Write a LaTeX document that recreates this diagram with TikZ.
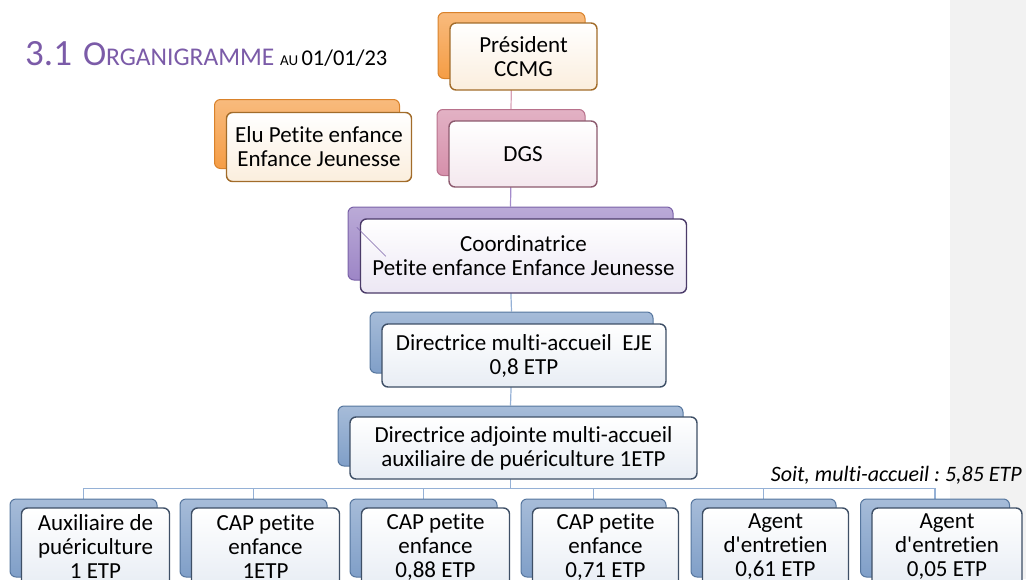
\documentclass[tikz,border=0pt]{standalone}
\usepackage{fontspec}
\setmainfont{Carlito}[Ligatures={TeXOff,CommonOff}]
\usetikzlibrary{backgrounds}
\definecolor{orangeback}{HTML}{F59D45}
\definecolor{orangeedge}{HTML}{D9822B}
\definecolor{orangeline}{HTML}{A26C2A}
\definecolor{orangefill}{HTML}{FBEEDD}
\definecolor{pinkback}{HTML}{D690AB}
\definecolor{pinkedge}{HTML}{B8728C}
\definecolor{pinkline}{HTML}{8C5A6E}
\definecolor{pinkfill}{HTML}{F4E8EE}
\definecolor{purpleback}{HTML}{9D86C6}
\definecolor{purpleedge}{HTML}{7A62A8}
\definecolor{purpleline}{HTML}{4B3B69}
\definecolor{purplefill}{HTML}{ECE7F4}
\definecolor{blueback}{HTML}{809FC8}
\definecolor{blueedge}{HTML}{56769E}
\definecolor{blueline}{HTML}{3E4F66}
\definecolor{bluefill}{HTML}{E8EDF4}
\definecolor{titlepurple}{HTML}{7B5BA8}
\definecolor{bandgray}{HTML}{F2F2F2}
\definecolor{pinkspine}{HTML}{D8A0B5}
\definecolor{purplespine}{HTML}{A48CCC}
\definecolor{bluespine}{HTML}{95B1D6}

\begin{document}
\frenchspacing
\begin{tikzpicture}[x=1pt,y=-1pt,
   back/.style={rounded corners=6pt, line width=1pt, draw=#1edge,
      top color=#1back!70!white, bottom color=#1back, inner sep=0pt},
   front/.style={rounded corners=6pt, line width=1.4pt, draw=#1line,
      top color=white, bottom color=#1fill, align=center, inner sep=0pt,
      font=\fontsize{23}{24}\selectfont},
   boxsize/.style 2 args={minimum width=#1pt, minimum height=#2pt},
   spine/.style={line width=1.2pt, draw=#1}]
   \useasboundingbox (0,0) rectangle (1026,579);
   \clip (0,0) rectangle (1026,579);
   % title
   \node (title)[anchor=base west, text=titlepurple, inner sep=0pt] at (25,65)
      {\fontsize{37}{37}\selectfont 3.1\hspace{11pt}\fontsize{35}{35}\selectfont O\fontsize{25.5}{25}\selectfont RGANIGRAMME\
       \textcolor{black}{\fontsize{15}{15}\selectfont AU\ \fontsize{22.5}{22}\selectfont 01/01/23}};
   % top of chart
   \node (pres)[back=orange, boxsize={147}{66}] at (511.5,45.5) {};
   \node (presf)[front=orange, boxsize={147}{67}] at ([shift={(12,11)}]pres.center) {Président\\CCMG};
   \node (elu)[back=orange, boxsize={185}{69}] at (307,134) {};
   \node (eluf)[front=orange, boxsize={185}{69}] at ([shift={(12,13)}]elu.center) {Elu Petite enfance\\Enfance Jeunesse};
   \node (dgs)[back=pink, boxsize={148}{66}] at (511,142.5) {};
   \node (dgsf)[front=pink, boxsize={148}{66}] at ([shift={(12,11.5)}]dgs.center) {DGS};
   \node (coord)[back=purple, boxsize={325}{73}] at (510.5,243.5) {};
   \node (coordf)[front=purple, boxsize={326}{74}] at ([shift={(13,12.5)}]coord.center) {Coordinatrice\\ Petite enfance Enfance Jeunesse};
   \coordinate (c1) at ([shift={(-3,9)}]coordf.north west);
   \coordinate (c2) at ([shift={(26,38)}]coordf.north west);
   \draw[purpleedge, line width=0.6pt] (c1) -- (c2);
   \node (eje)[back=blue, boxsize={283}{61}] at (511.5,342.5) {};
   \node (ejef)[front=blue, boxsize={284}{63}] at ([shift={(12.5,13)}]eje.center) {Directrice multi-accueil\ \ EJE\\0,8 ETP};
   \node (adj)[back=blue, boxsize={345}{60}] at (510.5,436) {};
   \node (adjf)[front=blue, boxsize={347}{62}] at ([shift={(13,12)}]adj.center) {Directrice adjointe multi-accueil\\auxiliaire de puériculture 1ETP};
   % bottom row
   \node (aux)[back=blue, boxsize={147}{78}] at (83.5,538) {};
   \node (auxf)[front=blue, boxsize={148}{78}] at ([shift={(12,9)}]aux.center) {Auxiliaire de\\puériculture\\1 ETP};
   \node (capa)[back=blue, boxsize={147}{78}] at (253.5,538) {};
   \node (capaf)[front=blue, boxsize={148}{78}] at ([shift={(12,9)}]capa.center) {CAP petite\\enfance\\1ETP};
   \node (capb)[back=blue, boxsize={147}{78}] at (423.5,538) {};
   \node (capbf)[front=blue, boxsize={148}{78}] at ([shift={(12,9)}]capb.center) {CAP petite\\enfance\\0,88 ETP};
   \node (capc)[back=blue, boxsize={145}{78}] at (593.5,538) {};
   \node (capcf)[front=blue, boxsize={146}{78}] at ([shift={(12,9)}]capc.center) {CAP petite\\enfance\\0,71 ETP};
   \node (agenta)[back=blue, boxsize={145}{78}] at (763.5,538) {};
   \node (agentaf)[front=blue, boxsize={146}{78}] at ([shift={(12,9)}]agenta.center) {Agent\\d'entretien\\0,61 ETP};
   \node (agentb)[back=blue, boxsize={149}{78}] at (935,538) {};
   \node (agentbf)[front=blue, boxsize={150}{78}] at ([shift={(12,9)}]agentb.center) {Agent\\d'entretien\\0,05 ETP};
   \node (total)[anchor=base east, inner sep=0pt, font=\fontsize{22}{22}\selectfont\itshape] at (1022,481) {Soit, multi-accueil : 5,85 ETP};
   % connectors and band behind
   \begin{scope}[on background layer]
      \fill[bandgray] (950,0) rectangle (1026,579);
      \draw[spine=pinkspine] (pres.south) -- (dgs.north);
      \draw[spine=purplespine] (dgs.south) -- (coord.north);
      \draw[spine=bluespine] (coord.south) -- (eje.north);
      \draw[spine=bluespine] (eje.south) -- (adj.north);
      \draw[spine=bluespine] (adj.south) -- ++(0,22) -| (aux.north);
      \draw[spine=bluespine] (adj.south) -- ++(0,22) -| (capa.north);
      \draw[spine=bluespine] (adj.south) -- ++(0,22) -| (capb.north);
      \draw[spine=bluespine] (adj.south) -- ++(0,22) -| (capc.north);
      \draw[spine=bluespine] (adj.south) -- ++(0,22) -| (agenta.north);
      \draw[spine=bluespine] (adj.south) -- ++(0,22) -| (agentb.north);
   \end{scope}
\end{tikzpicture}
\end{document}
